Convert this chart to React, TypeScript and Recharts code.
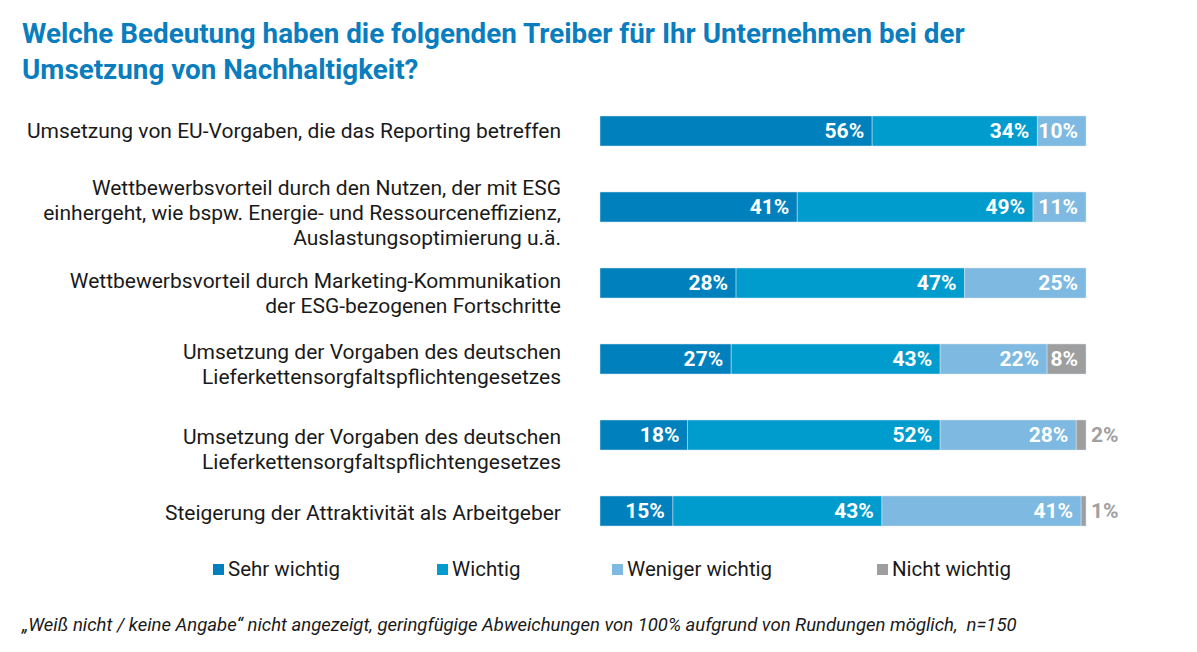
import React from 'react';
import { BarChart, Bar, XAxis, YAxis, LabelList } from 'recharts';

// Category labels (line breaks as in the original)
const categories = [
  'Umsetzung von EU-Vorgaben, die das Reporting betreffen',
  'Wettbewerbsvorteil durch den Nutzen, der mit ESG\neinhergeht, wie bspw. Energie- und Ressourceneffizienz,\nAuslastungsoptimierung u.ä.',
  'Wettbewerbsvorteil durch Marketing-Kommunikation\nder ESG-bezogenen Fortschritte',
  'Umsetzung der Vorgaben des deutschen\nLieferkettensorgfaltspflichtengesetzes',
  'Umsetzung der Vorgaben des deutschen\nLieferkettensorgfaltspflichtengesetzes',
  'Steigerung der Attraktivität als Arbeitgeber',
];

const sehrWichtig = [56, 41, 28, 27, 18, 15];
const wichtig = [34, 49, 47, 43, 52, 43];
const wenigerWichtig = [10, 11, 25, 22, 28, 41];
const nichtWichtig = [0, 0, 0, 8, 2, 1];

const seriesNames = ['Sehr wichtig', 'Wichtig', 'Weniger wichtig', 'Nicht wichtig'];
const COLORS = ['#0080BC', '#009CCE', '#7DB9E0', '#9E9E9E'];

// small vertical nudges of the axis labels, as in the original slide
const labelNudge = [0, 6, 10, 5, 14, 2];

const data = categories.map((label, i) => ({
  key: String(i),
  label,
  sehr: sehrWichtig[i],
  wichtig: wichtig[i],
  weniger: wenigerWichtig[i],
  nicht: nichtWichtig[i],
}));

const FONT = 'Roboto, "Noto Sans", sans-serif';

const CategoryTick = (props: any) => {
  const { x, y, payload } = props;
  const idx = Number(payload.value);
  const lines = categories[idx].split('\n');
  const lh = 25;
  const start = y - ((lines.length - 1) * lh) / 2 + labelNudge[idx];
  return (
    <text x={x} y={start} textAnchor="end" fontFamily={FONT} fontSize={21} fill="#1a1a1a">
      {lines.map((l, i) => (
        <tspan key={i} x={x} y={start + i * lh} dy="0.35em">{l}</tspan>
      ))}
    </text>
  );
};

const InsideLabel = (props: any) => {
  const { x, y, width, height, value } = props;
  if (!value) return null;
  if (value < 5) {
    return (
      <text x={x + width + 5} y={y + height / 2} dy="0.35em" textAnchor="start"
        fontFamily={FONT} fontSize={21} fontWeight={700} fill="#A0A0A0">
        {value}%
      </text>
    );
  }
  return (
    <text x={x + width - 8} y={y + height / 2} dy="0.35em" textAnchor="end"
      fontFamily={FONT} fontSize={21} fontWeight={700} fill="#ffffff">
      {value}%
    </text>
  );
};

const keys = ['sehr', 'wichtig', 'weniger', 'nicht'];

export default function App() {
  return (
    <div style={{ position: 'absolute', left: 0, top: 0, width: 1197, height: 652, background: '#fff', fontFamily: FONT }}>
      <div style={{ position: 'absolute', left: 22, top: 16, color: '#0A7DBE', fontWeight: 700, fontSize: 27.8, lineHeight: '36px', whiteSpace: 'nowrap' }}>
        Welche Bedeutung haben die folgenden Treiber für Ihr Unternehmen bei der<br />
        Umsetzung von Nachhaltigkeit?
      </div>
      <div style={{ position: 'absolute', left: 0, top: 0 }}>
        <BarChart
          width={1197}
          height={560}
          data={data}
          layout="vertical"
          stackOffset="expand"
          margin={{ top: 93, right: 111, bottom: 11, left: 0 }}
        >
          <XAxis type="number" hide domain={[0, 1]} />
          <YAxis
            type="category"
            dataKey="key"
            width={600}
            axisLine={false}
            tickLine={false}
            tick={<CategoryTick />}
            tickMargin={33}
          />
          {keys.map((k, i) => (
            <Bar
              key={k}
              dataKey={k}
              name={seriesNames[i]}
              stackId="a"
              fill={COLORS[i]}
              stroke="#d5e3ec"
              strokeWidth={0.5}
              barSize={30}
              isAnimationActive={false}
            >
              <LabelList dataKey={k} content={<InsideLabel />} />
            </Bar>
          ))}
        </BarChart>
      </div>
      <div style={{ position: 'absolute', left: 213, top: 556, display: 'flex', fontSize: 20.5, color: '#1a1a1a' }}>
        {seriesNames.map((n, i) => (
          <div key={n} style={{ display: 'flex', alignItems: 'center', width: [224, 175, 265, 160][i] }}>
            <span style={{ display: 'inline-block', width: 11, height: 11, background: COLORS[i], marginRight: 4 }} />
            <span style={{ lineHeight: '26px', whiteSpace: 'nowrap' }}>{n}</span>
          </div>
        ))}
      </div>
      <div style={{ position: 'absolute', left: 22, top: 613, fontSize: 18.5, fontStyle: 'italic', color: '#1a1a1a', whiteSpace: 'nowrap', lineHeight: '24px' }}>
        „Weiß nicht / keine Angabe“ nicht angezeigt, geringfügige Abweichungen von 100% aufgrund von Rundungen möglich,&nbsp; n=150
      </div>
    </div>
  );
}
